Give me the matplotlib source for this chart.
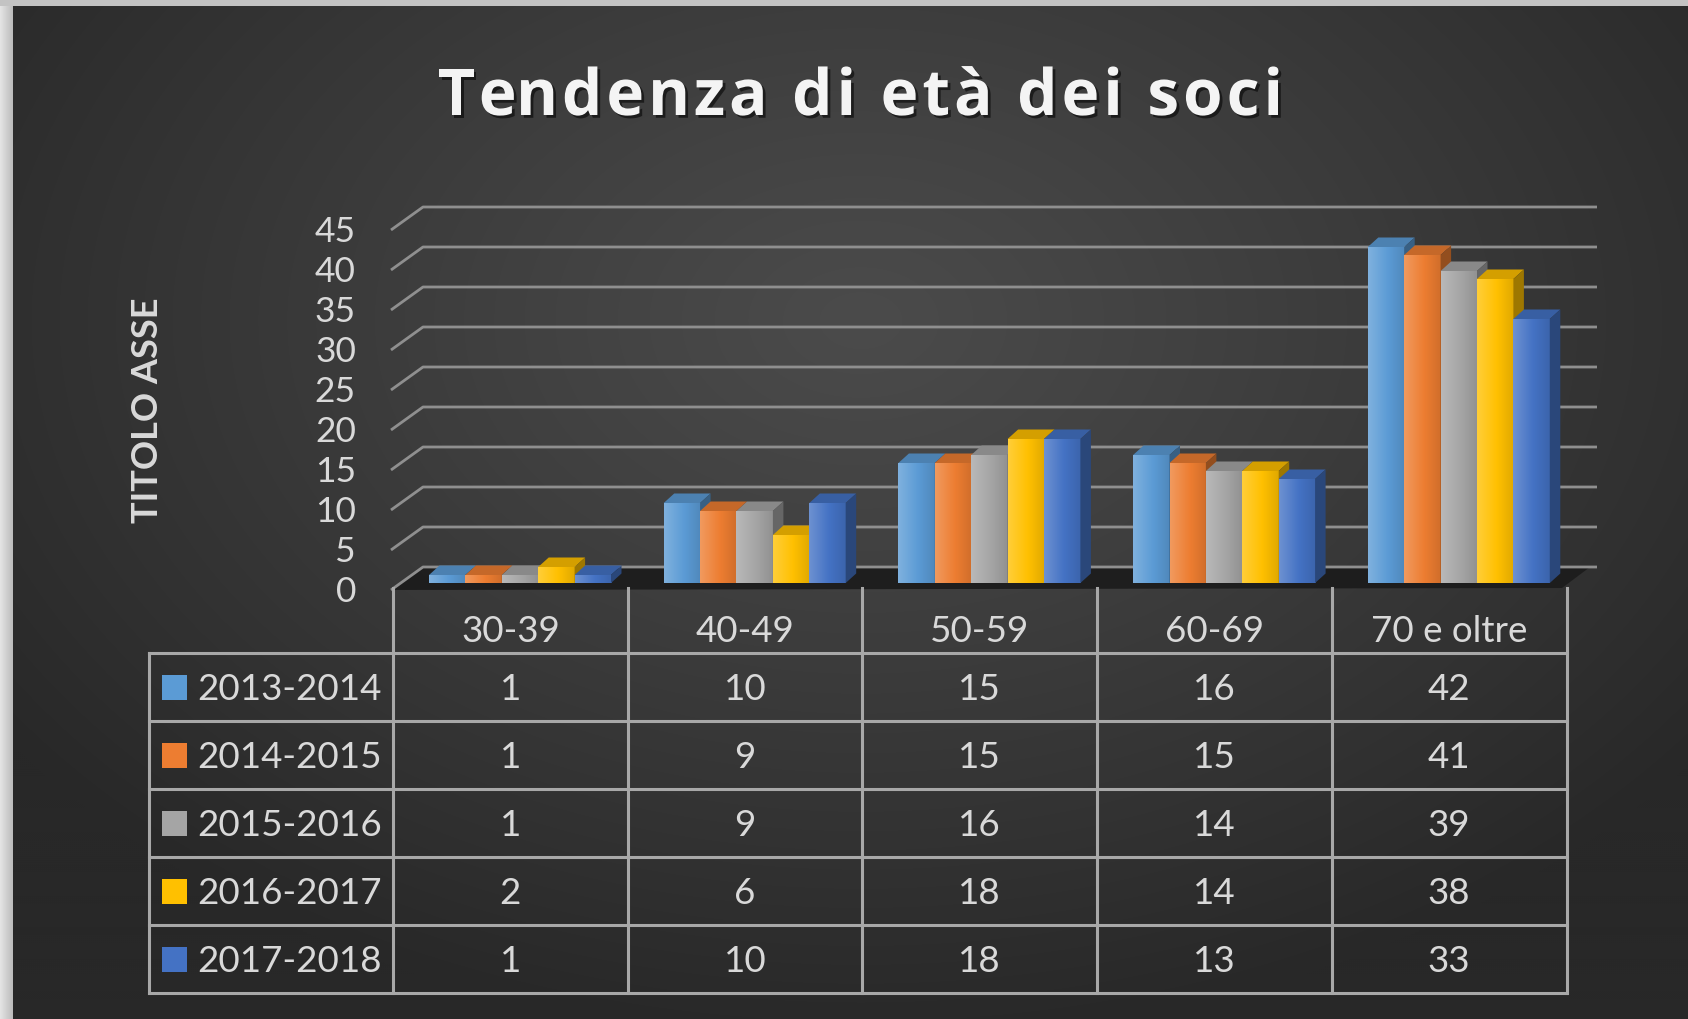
import numpy as np
import matplotlib
matplotlib.use("Agg")
import matplotlib.pyplot as plt
from matplotlib.patches import Polygon, Rectangle
import matplotlib.patheffects as pe
from matplotlib.colors import to_rgb
from matplotlib.font_manager import FontProperties

# ---------------- data ----------------
categories = ["30-39", "40-49", "50-59", "60-69", "70 e oltre"]
series_labels = ["2013-2014", "2014-2015", "2015-2016", "2016-2017", "2017-2018"]
s2013_2014 = [1, 10, 15, 16, 42]
s2014_2015 = [1, 9, 15, 15, 41]
s2015_2016 = [1, 9, 16, 14, 39]
s2016_2017 = [2, 6, 18, 14, 38]
s2017_2018 = [1, 10, 18, 13, 33]
series_values = [s2013_2014, s2014_2015, s2015_2016, s2016_2017, s2017_2018]
y_ticks = [0, 5, 10, 15, 20, 25, 30, 35, 40, 45]
title = "Tendenza di età dei soci"
y_label = "TITOLO ASSE"
colors = ["#5B9BD5", "#ED7D31", "#A5A5A5", "#FFC000", "#4472C4"]

# ---------------- figure ----------------
W, H = 1688, 1019
fig = plt.figure(figsize=(W / 100, H / 100), dpi=100)

# background (radial gradient)
bg = fig.add_axes([0, 0, 1, 1], zorder=-10)
yy, xx = np.mgrid[0:H:2, 0:W:2]
r = np.sqrt(((xx - 860) / 1050.0) ** 2 + ((yy - 320) / 720.0) ** 2)
t = np.clip(r, 0, 1) ** 1.1
c0 = np.array(to_rgb("#4b4b4b"))
c1 = np.array(to_rgb("#282828"))
img = c0 * (1 - t[..., None]) + c1 * t[..., None]
bg.imshow(img, extent=(0, W, H, 0), aspect="auto", interpolation="bilinear")
# light frame at top / left
bg.add_patch(Rectangle((0, 0), W, 6, color="#c3c3c3", lw=0))
band = np.linspace(0, 1, 14)
band_c = np.array(to_rgb("#e4e4e4"))[None, :] * (1 - band[:, None]) + np.array(to_rgb("#bcbcbc"))[None, :] * band[:, None]
bg.imshow(band_c[None, :, :], extent=(0, 13, H, 0), aspect="auto", interpolation="bilinear")
bg.set_xlim(0, W)
bg.set_ylim(H, 0)
bg.axis("off")

# ---------------- bar axes (data coords) ----------------
X0, SX = 520.0, 234.7      # pixel x of category 0 centre, pixels per category
BASE, SY = 583.0, 8.0      # pixel y (from top) of value 0, pixels per unit


def px2x(px):
    return (px - X0) / SX


def py2y(py):
    return (BASE - py) / SY


ax = fig.add_axes([0, 0, 1, 1], zorder=1)
ax.patch.set_visible(False)
ax.set_autoscale_on(False)
ax.set_xlim(px2x(0), px2x(W))
ax.set_ylim(py2y(H), py2y(0))
ax.axis("off")

FONT = "Lato"
TXT = "#d9d9d9"

# floor
floor = Polygon([(px2x(391), py2y(590)), (px2x(423), py2y(567)),
                 (px2x(1590), py2y(567)), (px2x(1562), py2y(588))],
                closed=True, facecolor="#1b1b1b", edgecolor="none", alpha=0.9, zorder=1.5)
ax.add_patch(floor)

# gridlines (front slant + back wall)
front_dy = py2y(590)
back_dy = py2y(567)
for v in y_ticks:
    ax.plot([px2x(391), px2x(423), px2x(1597)],
            [v + front_dy, v + back_dy, v + back_dy],
            color="#8f8f8f", lw=2.0, solid_capstyle="butt", zorder=2)
    ax.text(px2x(356), v + front_dy - 0.3, str(v), ha="right", va="center",
            fontsize=25.5, color=TXT, family=FONT)

# bars
bw = 36.4 / SX
ddx = 10.5 / SX
ddy = 9.5 / SY
x_idx = np.arange(len(categories))
for j, (vals, col) in enumerate(zip(series_values, colors)):
    c = np.array(to_rgb(col))
    xs = x_idx + (j - 2) * bw
    z = 3 + j
    bars = ax.bar(xs, vals, width=bw, color=col, linewidth=0, zorder=z)
    tt = np.linspace(0, 1, 40)
    light = 0.22 * np.clip(1 - tt / 0.55, 0, 1)
    dark = 0.12 * np.clip((tt - 0.55) / 0.45, 0, 1)
    grad = c[None, :] * (1 - light[:, None]) + light[:, None]
    grad = grad * (1 - dark[:, None])
    for b, v in zip(bars, vals):
        x0 = b.get_x()
        x1 = x0 + b.get_width()
        im = ax.imshow(grad[None, :, :], extent=(x0, x1, 0, v), aspect="auto",
                       interpolation="bilinear", zorder=z + 0.1)
        im.set_clip_path(b)
        top = Polygon([(x0, v), (x1, v), (x1 + ddx, v + ddy), (x0 + ddx, v + ddy)],
                      closed=True, facecolor=c * 0.83, edgecolor="none", zorder=z + 0.2)
        side = Polygon([(x1, 0), (x1 + ddx, ddy), (x1 + ddx, v + ddy), (x1, v)],
                       closed=True, facecolor=c * 0.62, edgecolor="none", zorder=z + 0.2)
        ax.add_patch(top)
        ax.add_patch(side)

ax.set_xlim(px2x(0), px2x(W))
ax.set_ylim(py2y(H), py2y(0))

# ---------------- overlay (pixel coords) for table / labels ----------------
ov = fig.add_axes([0, 0, 1, 1], zorder=5)
ov.patch.set_visible(False)
ov.set_xlim(0, W)
ov.set_ylim(H, 0)
ov.axis("off")

LINE = "#a8a8a8"
LW = 2.2
col_x = [393 + 234.7 * k for k in range(len(categories) + 1)]
row_y = [653 + 68 * k for k in range(len(series_labels) + 1)]
tab_left = 149

for xk in col_x:
    ov.plot([xk, xk], [588, row_y[-1]], color=LINE, lw=LW, solid_capstyle="projecting", zorder=5)
ov.plot([tab_left, tab_left], [row_y[0], row_y[-1]], color=LINE, lw=LW, solid_capstyle="projecting")
for yk in row_y:
    ov.plot([tab_left, col_x[-1]], [yk, yk], color=LINE, lw=LW, solid_capstyle="projecting")

for i, cat in enumerate(categories):
    cx = (col_x[i] + col_x[i + 1]) / 2
    ov.text(cx, 632, cat, ha="center", va="center", fontsize=26.5, color=TXT, family=FONT)

for j, (lab, vals, col) in enumerate(zip(series_labels, series_values, colors)):
    cy = (row_y[j] + row_y[j + 1]) / 2
    ov.add_patch(Rectangle((162, cy - 12.5), 25, 25, color=col, lw=0))
    ov.text(197, cy + 2, lab, ha="left", va="center", fontsize=26.5, color=TXT, family=FONT)
    for i, v in enumerate(vals):
        cx = (col_x[i] + col_x[i + 1]) / 2
        ov.text(cx, cy + 2, str(v), ha="center", va="center", fontsize=26.5, color=TXT, family=FONT)

# axis title
ov.text(148, 410, y_label, rotation=90, ha="center", va="center", fontsize=26,
        weight="bold", color=TXT, family=FONT)

# ---------------- title with letter spacing ----------------
renderer = fig.canvas.get_renderer()
tprop = FontProperties(family="Open Sans", weight="bold", size=46)


def tw(s):
    w, h, d = renderer.get_text_width_height_descent(s, tprop, ismath=False)
    return w


bar_w = tw("|")
pos = [0.0] + [tw(title[:k] + "|") - bar_w for k in range(1, len(title))]
natural = tw(title)
target_left, target_right = 438, 1283
n = len(title)
spacing = (target_right - target_left - natural) / (n - 1)
for k, ch in enumerate(title):
    if ch == " ":
        continue
    ov.text(target_left + pos[k] + k * spacing, 115, ch, ha="left", va="baseline",
            fontproperties=tprop, color="#f4f4f4",
            path_effects=[pe.withSimplePatchShadow(offset=(2, -2), shadow_rgbFace="black", alpha=0.55)])

fig.savefig("out.png", dpi=100)
